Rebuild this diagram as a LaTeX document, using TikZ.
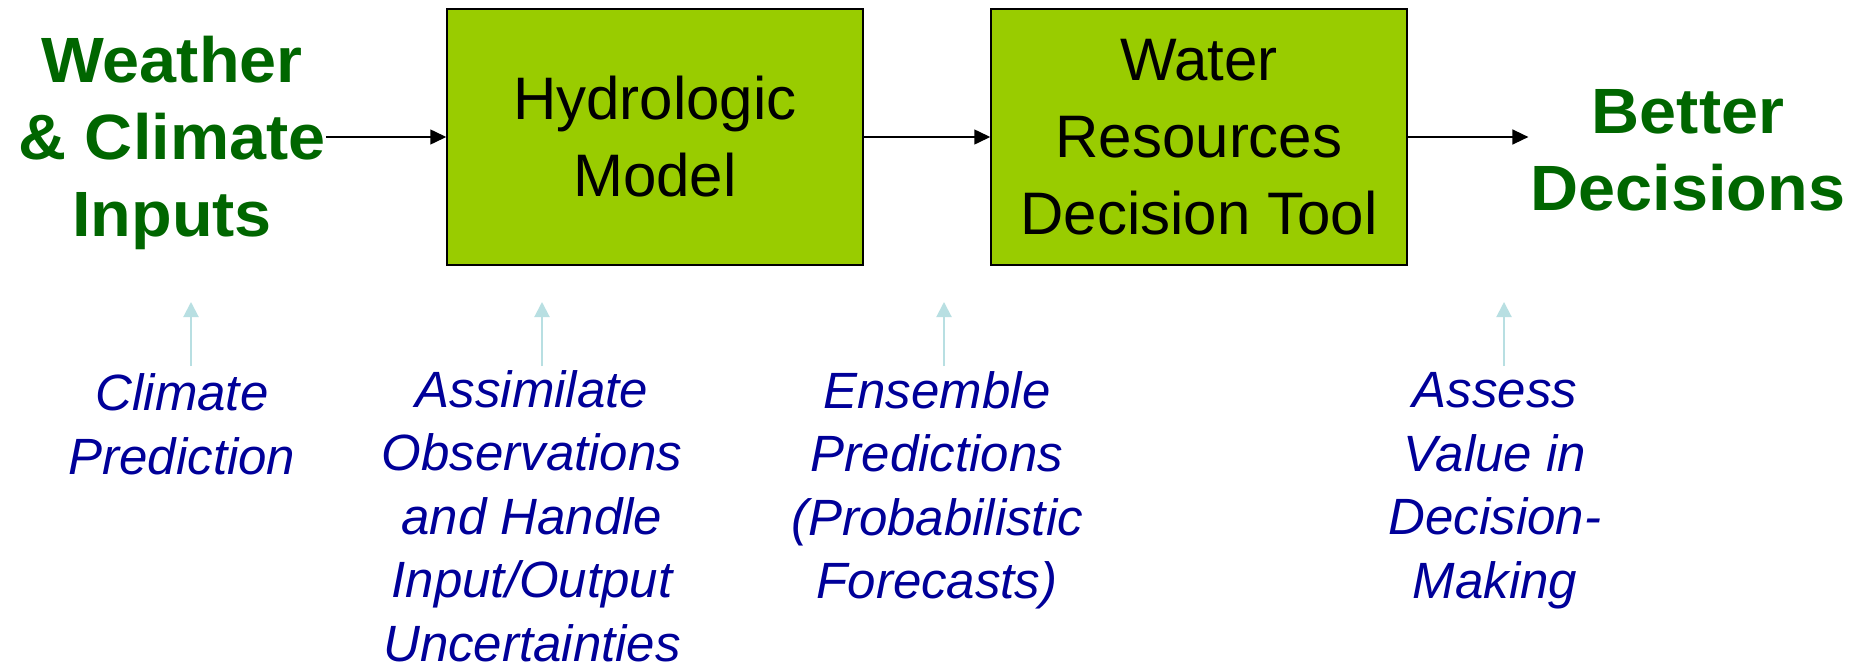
\documentclass[tikz,border=0pt]{standalone}
\usepackage{fontspec}
\setmainfont{Liberation Sans}
\newfontfamily\headfont[FakeStretch=1.04]{Liberation Sans}
\usetikzlibrary{arrows.meta}
\definecolor{boxgreen}{HTML}{99CC00}
\definecolor{darkgreen}{HTML}{006600}
\definecolor{navy}{HTML}{000099}
\definecolor{paleblue}{HTML}{B8DFE2}
\begin{document}
\begin{tikzpicture}[x=0.5pt,y=-0.5pt,
  procbox/.style={draw=black, line width=0.75pt, fill=boxgreen, minimum width=208pt, minimum height=128pt, inner sep=0pt, align=center, font=\fontsize{30}{38.5}\selectfont},
  outcome/.style={text=darkgreen, inner sep=0pt, align=center, font=\headfont\bfseries\fontsize{32}{38.5}\selectfont},
  note/.style={text=navy, inner sep=0pt, align=center, font=\itshape\fontsize{25.5}{31.75}\selectfont},
  flow/.style={-{Triangle[length=8pt,width=7.5pt]}, line width=0.75pt, draw=black},
  hint/.style={-{Triangle[length=7.5pt,width=7.5pt]}, line width=1pt, draw=paleblue}]
\useasboundingbox[fill=white] (0,0) rectangle (1858,669);

% top row
\node[outcome] (weather) at (172,143) {Weather\\\& Climate\\Inputs};
\node[procbox] (hydro) at (655,137) {Hydrologic\\Model};
\node[procbox] (tool) at (1199,137) {Water\\Resources\\Decision Tool};
\node[outcome] (better) at (1688,150) {Better\\Decisions};

\draw[flow] (weather.east |- hydro.west) -- (hydro.west);
\draw[flow] (hydro.east) -- (tool.west);
\draw[flow] (tool.east) -- ([xshift=-1pt]better.west |- tool.east);

% bottom notes
\node[note] (climate) at (182,424.5) {Climate\\Prediction};
\node[note] (assim) at (532,516) {Assimilate\\Observations\\and Handle\\Input/Output\\Uncertainties};
\node[note] (ensemble) at (937,490.5) {Ensemble\\Predictions\\(Probabilistic\\Forecasts)};
\node[note] (assess) at (1495,490.5) {Assess\\Value in\\Decision-\\Making};

\coordinate (c1s) at (191,366); \coordinate (c1e) at (191,302);
\coordinate (c2s) at (542,366); \coordinate (c2e) at (542,302);
\coordinate (c3s) at (944,366); \coordinate (c3e) at (944,302);
\coordinate (c4s) at (1504,366); \coordinate (c4e) at (1504,302);
\draw[hint] (c1s) -- (c1e);
\draw[hint] (c2s) -- (c2e);
\draw[hint] (c3s) -- (c3e);
\draw[hint] (c4s) -- (c4e);
\end{tikzpicture}
\end{document}
